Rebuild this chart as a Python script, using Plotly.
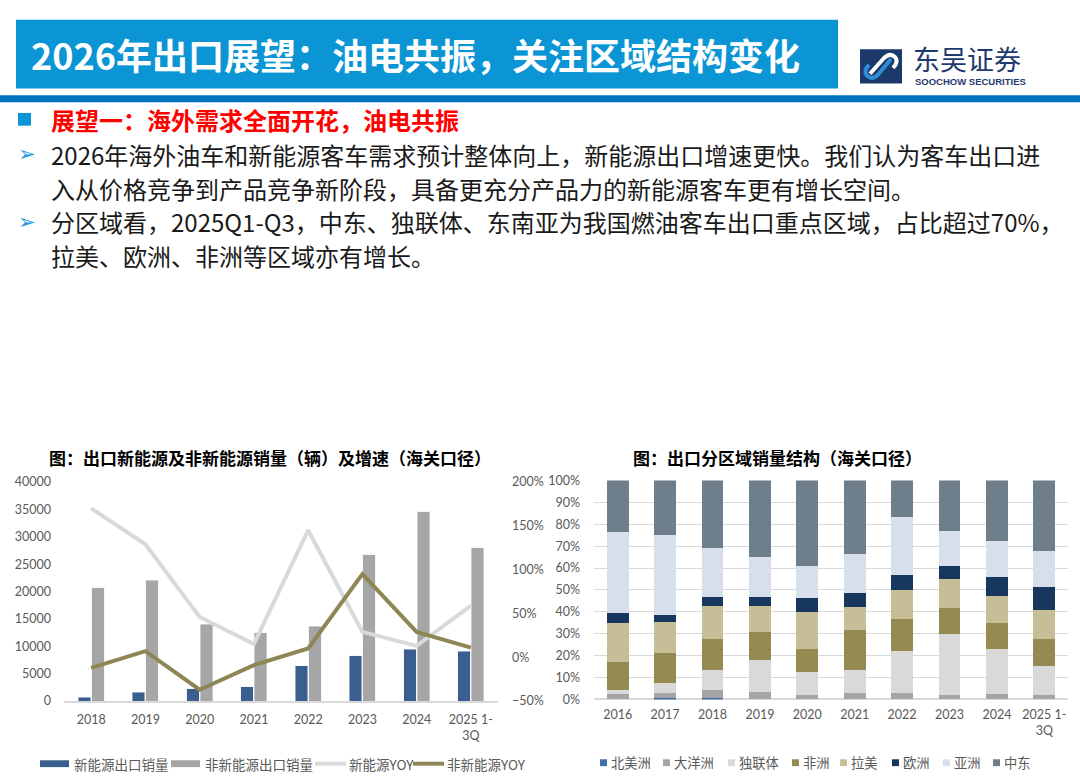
import plotly.graph_objects as go

W, H = 1080, 780

# 左图：出口新能源及非新能源销量（辆）及增速（海关口径）
years_l = ["2018", "2019", "2020", "2021", "2022", "2023", "2024", "2025 1-<br>3Q"]
nev_sales = [700, 1600, 2300, 2600, 6500, 8300, 9500, 9100]
ice_sales = [20700, 22100, 14000, 12500, 13700, 26700, 34600, 28000]
nev_yoy = [170, 129, 46, 15, 145, 29, 13, 59]
ice_yoy = [-12, 7, -37, -9, 10, 95, 29, 11]

# 右图：出口分区域销量结构（%）
years_r = ["2016", "2017", "2018", "2019", "2020", "2021", "2022", "2023", "2024", "2025 1-<br>3Q"]
north_america = [0, 0.7, 0.6, 0, 0, 0, 0, 0, 0, 0]
oceania = [2.5, 2.1, 3.6, 3.4, 2.1, 2.8, 2.8, 2.1, 2.5, 2.1]
cis = [1.7, 4.5, 9.4, 14.4, 10.5, 10.7, 19.5, 27.7, 20.7, 13.2]
africa = [12.9, 14.1, 13.9, 12.9, 10.6, 18.1, 14.5, 11.8, 11.5, 12.4]
latam = [17.9, 14.1, 15.0, 11.8, 16.6, 10.5, 13.1, 13.6, 12.6, 13.0]
europe = [4.5, 3.1, 4.1, 4.1, 6.6, 6.6, 7.1, 5.7, 8.5, 10.6]
asia = [36.8, 36.4, 22.7, 18.4, 14.5, 17.9, 26.4, 15.9, 16.7, 16.4]
middle_east = [23.7, 25.0, 30.7, 35.0, 39.1, 33.4, 16.6, 23.2, 27.5, 32.3]

region_names = ["北美洲", "大洋洲", "独联体", "非洲", "拉美", "欧洲", "亚洲", "中东"]
region_values = [north_america, oceania, cis, africa, latam, europe, asia, middle_east]
region_colors = ["#4470a8", "#a5a5a5", "#d9d9d9", "#958b52", "#c5be96", "#18375e", "#d6dfea", "#6e7e8b"]

bullets = [
    "2026年海外油车和新能源客车需求预计整体向上，新能源出口增速更快。我们认为客车出口进",
    "入从价格竞争到产品竞争新阶段，具备更充分产品力的新能源客车更有增长空间。",
    "分区域看，2025Q1-Q3，中东、独联体、东南亚为我国燃油客车出口重点区域，占比超过70%，",
    "拉美、欧洲、非洲等区域亦有增长。",
]

CJK = "Noto Sans CJK SC"
NUM = "Lato, Noto Sans CJK SC"
TICK = "#595959"


def px(x):
    return x / W


def py(y):
    return 1 - y / H


fig = go.Figure()

# left chart: two bar groups side by side + yoy lines on the right axis
fig.add_bar(x=years_l, y=nev_sales, name="新能源出口销量", marker_color="#3a5f8e",
            offsetgroup="nev", xaxis="x", yaxis="y")
fig.add_bar(x=years_l, y=ice_sales, name="非新能源出口销量", marker_color="#a6a6a6",
            offsetgroup="ice", xaxis="x", yaxis="y")
fig.add_scatter(x=years_l, y=nev_yoy, name="新能源YOY", mode="lines",
                line=dict(color="#d9d9d9", width=4), xaxis="x", yaxis="y2")
fig.add_scatter(x=years_l, y=ice_yoy, name="非新能源YOY", mode="lines",
                line=dict(color="#8f8656", width=4), xaxis="x", yaxis="y2")

# right chart: 100% stacked
for name, vals, col in zip(region_names, region_values, region_colors):
    fig.add_bar(x=years_r, y=vals, name=name, marker=dict(color=col, line=dict(width=0)),
                offsetgroup="region", xaxis="x3", yaxis="y3")

fig.update_traces(showlegend=False)

tickfont = dict(family=NUM, size=12.5, color=TICK)

fig.update_layout(
    width=W, height=H,
    margin=dict(l=0, r=0, t=0, b=0),
    paper_bgcolor="white", plot_bgcolor="white",
    barmode="stack",
    bargap=0.5, bargroupgap=0.08,
    xaxis=dict(domain=[px(64), px(498)], anchor="y", type="category",
               showline=True, linecolor="#d9d9d9", linewidth=1.5,
               ticks="", tickfont=tickfont, ticklabelstandoff=6, tickangle=0),
    yaxis=dict(domain=[py(706.7), py(483.3)], range=[0, 40000], dtick=5000,
               showgrid=False, zeroline=False, tickfont=tickfont,
               ticklabelstandoff=12, tickformat="d"),
    yaxis2=dict(overlaying="y", side="right", anchor="x", range=[-50, 200], dtick=50,
                ticksuffix="%", showgrid=False, zeroline=False, tickfont=tickfont,
                ticklabelstandoff=13),
    xaxis3=dict(domain=[px(594), px(1068)], anchor="y3", type="category",
                showline=False, ticks="", tickfont=tickfont, ticklabelstandoff=6, tickangle=0),
    yaxis3=dict(domain=[py(705), py(481.7)], anchor="x3", range=[0, 100], dtick=10,
                ticksuffix="%", showgrid=True, gridcolor="#d9d9d9", gridwidth=1,
                zeroline=True, zerolinecolor="#d9d9d9", tickfont=tickfont,
                ticklabelstandoff=13),
)

shapes = []
ann = []


def note(text, x, y, size, color, xanchor="left", family=CJK):
    ann.append(dict(text=text, x=px(x), y=py(y), xref="paper", yref="paper",
                    xanchor=xanchor, yanchor="middle", showarrow=False,
                    font=dict(family=family, size=size, color=color)))


def box(x0, x1, y0, y1, color, layer="above"):
    shapes.append(dict(type="rect", xref="paper", yref="paper", x0=px(x0), x1=px(x1),
                       y0=py(y1), y1=py(y0), fillcolor=color, line_width=0, layer=layer))


# header bar, logo and rule line
box(16, 838, 12, 82, "#0b95d5", layer="below")
box(0, W, 89, 96, "#0070c0")
note("<b>2026年出口展望：油电共振，关注区域结构变化</b>", 29, 47, 36, "white")

box(860, 902, 42, 77, "#1b3a6b")


def path_px(pts):
    cmd = []
    for c, xs in pts:
        cmd.append(c + " " + " ".join(
            f"{px(xs[i]):.5f},{py(xs[i + 1]):.5f}" for i in range(0, len(xs), 2)))
    return " ".join(cmd)


shapes.append(dict(type="path", xref="paper", yref="paper", line=dict(color="white", width=4),
                   path=path_px([("M", [870, 67]), ("L", [884, 51]),
                                 ("Q", [890, 45, 895, 50]), ("Q", [899, 55, 893, 61])])))
shapes.append(dict(type="path", xref="paper", yref="paper", line=dict(color="#2f8fd6", width=4),
                   path=path_px([("M", [891, 52]), ("L", [878, 68]),
                                 ("Q", [872, 74, 867, 69]), ("Q", [863, 64, 869, 58])])))
note("东吴证券", 911, 52, 27, "#1f3a6e")
note("<b>SOOCHOW SECURITIES</b>", 913, 74.5, 9.5, "#1f3a6e",
     family="Liberation Sans Narrow, Liberation Sans")

# heading and bullet text
box(18, 31, 107, 120, "#0b95d5")
note("<b>展望一：海外需求全面开花，油电共振</b>", 49, 114, 24, "#ff0000")

line_y = [149, 184, 218, 252]
for i, (txt, yy) in enumerate(zip(bullets, line_y)):
    note(txt, 49, yy, 24, "#1a1a1a")
    if i in (0, 2):
        note("➢", 27, yy, 21, "#1f9be0", xanchor="center", family="DejaVu Sans")

# chart titles
note("<b>图：出口新能源及非新能源销量（辆）及增速（海关口径）</b>", 270, 458, 17, "black", xanchor="center")
note("<b>图：出口分区域销量结构（海关口径）</b>", 777, 458, 17, "black", xanchor="center")

# left legend
left_leg_x = [40, 171, 315, 413]
for tr, lx in zip(fig.data[:4], left_leg_x):
    if tr.type == "bar":
        box(lx, lx + 29, 767, 774, tr.marker.color)
    else:
        shapes.append(dict(type="line", xref="paper", yref="paper", x0=px(lx), x1=px(lx + 31),
                           y0=py(770.5), y1=py(770.5),
                           line=dict(color=tr.line.color, width=4)))
    note(tr.name, lx + 32, 770.5, 13.5, TICK)

# right legend
right_leg_x = [600, 663, 728, 792, 840, 892, 943, 993]
for name, col, lx in zip(region_names, region_colors, right_leg_x):
    box(lx, lx + 7, 766, 773, col)
    note(name, lx + 9, 769.5, 13.3, TICK)

fig.update_layout(shapes=shapes, annotations=ann)

# page body has a default 8px margin; drop it so the figure sits at the window origin
fig.write_html("out.html", config={"displayModeBar": False},
               post_script="document.body.style.margin='0';")
